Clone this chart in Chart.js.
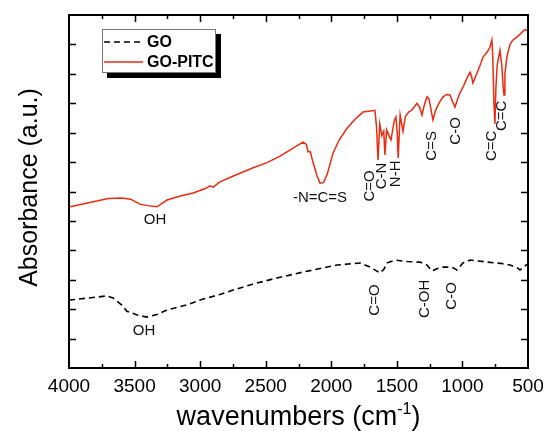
<!DOCTYPE html>
<html>
<head>
<meta charset="utf-8">
<script src="https://cdn.jsdelivr.net/npm/chart.js@4"></script>
<style>
    html, body { margin: 0; background: #fff; }
    #wrap { width: 547px; height: 431px; }
</style>
</head>
<body>
<div id="wrap"><canvas id="graph"></canvas></div>
<script>
const FONT = '"Liberation Sans", Arial, sans-serif';

// GO-PITC spectrum (wavenumber, absorbance a.u.)
const pitcWave = [4000, 3850, 3700, 3600, 3530, 3460, 3400, 3330, 3290, 3253, 3150, 3054, 2960, 2925, 2900, 2849, 2760, 2696, 2600, 2490,
    2391, 2300, 2216, 2190, 2177, 2160, 2140, 2110, 2086, 2060, 2030, 1987, 1940, 1880, 1820, 1758, 1700, 1667, 1655, 1644,
    1630, 1615, 1600, 1591, 1578, 1560, 1545, 1520, 1507, 1497, 1490, 1475, 1453, 1435, 1410, 1385, 1347, 1325, 1308, 1290,
    1270, 1255, 1240, 1225, 1205, 1180, 1148, 1120, 1095, 1075, 1057, 1040, 1019, 990, 965, 942, 930, 920, 905, 889,
    860, 843, 810, 790, 775, 768, 760, 752, 745, 735, 714, 700, 690, 683, 676, 660, 637, 615, 584, 560, 538, 520, 500];
const pitcAbs = [5.47, 5.62, 5.76, 5.78, 5.74, 5.57, 5.52, 5.48, 5.6, 5.71, 5.85, 5.95, 6.1, 6.19, 6.15, 6.33, 6.5, 6.62, 6.8, 6.98,
    7.2, 7.45, 7.68, 7.6, 7.35, 7.35, 7.0, 6.55, 6.28, 6.3, 6.6, 7.3, 7.75, 8.15, 8.45, 8.7, 8.74, 8.76, 8.2, 7.07,
    8.3, 7.9, 8.05, 7.24, 8.1, 7.9, 7.75, 8.4, 8.53, 8.0, 7.14, 8.6, 8.05, 8.55, 8.7, 8.77, 9.0, 8.85, 8.6, 8.95,
    9.22, 9.15, 8.8, 8.43, 8.75, 9.0, 9.22, 9.3, 9.28, 9.05, 8.87, 9.1, 9.35, 9.6, 9.86, 10.06, 9.9, 9.69, 9.85, 10.03,
    10.35, 10.57, 10.75, 10.91, 11.15, 10.5, 9.0, 8.3, 9.5, 10.3, 10.8, 10.3, 9.6, 9.28, 10.0, 10.6, 11.0, 11.15, 11.25, 11.35, 11.45, 11.5, 11.45];

// GO spectrum
const goWave = [4000, 3850, 3711, 3664, 3600, 3558, 3480, 3405, 3330, 3253, 3100, 3001, 2850, 2749, 2600, 2414, 2216, 1956, 1781, 1705,
    1629, 1600, 1575, 1514, 1420, 1324, 1270, 1232, 1190, 1148, 1080, 1042, 996, 942, 880, 813, 700, 637, 580, 561, 515, 500];
const goAbs = [2.31, 2.38, 2.45, 2.38, 2.15, 1.93, 1.8, 1.73, 1.82, 1.97, 2.15, 2.31, 2.5, 2.65, 2.85, 3.06, 3.26, 3.5, 3.57, 3.43,
    3.23, 3.35, 3.57, 3.67, 3.62, 3.6, 3.5, 3.3, 3.38, 3.43, 3.43, 3.33, 3.57, 3.67, 3.64, 3.6, 3.55, 3.5, 3.4, 3.33, 3.5, 3.55];

const xTicks = [4000, 3500, 3000, 2500, 2000, 1500, 1000, 500];
const seriesNames = ['GO', 'GO-PITC'];

// peak labels: text, wavenumber, absorbance, rotated
const peakText = ['OH', '-N=C=S', 'C=O', 'C-N', 'N-H', 'C=S', 'C-O', 'C=C', 'C=C', 'OH', 'C=O', 'C-OH', 'C-O'];
const peakWave = [3344, 2086, 1705, 1613, 1507, 1232, 1049, 775, 698, 3428, 1667, 1286, 1080];
const peakAbs = [5.03, 5.78, 6.19, 6.53, 6.6, 7.55, 8.06, 7.55, 8.57, 1.26, 2.31, 2.35, 2.45];
const peakRot = [false, false, true, true, true, true, true, true, true, false, true, true, true];

const toXY = (w, a) => w.map((v, i) => ({ x: v, y: a[i] }));

const decor = {
    id: 'decor',
    afterDraw(chart) {
        const { ctx, chartArea: ca, scales: { x, y } } = chart;
        ctx.save();

        // frame
        ctx.strokeStyle = '#000';
        ctx.lineWidth = 2;
        ctx.strokeRect(ca.left, ca.top, ca.right - ca.left, ca.bottom - ca.top);

        // inward ticks
        ctx.lineWidth = 1.5;
        ctx.beginPath();
        for (let w = 750; w < 4000; w += 250) {
            const px = Math.round(x.getPixelForValue(w)) + 0.5;
            const len = w % 500 === 0 ? 7 : 4;
            ctx.moveTo(px, ca.bottom); ctx.lineTo(px, ca.bottom - len);
            ctx.moveTo(px, ca.top); ctx.lineTo(px, ca.top + len);
        }
        for (let v = 1; v < 12; v++) {
            const py = Math.round(y.getPixelForValue(v)) + 0.5;
            ctx.moveTo(ca.left, py); ctx.lineTo(ca.left + 7, py);
            ctx.moveTo(ca.right, py); ctx.lineTo(ca.right - 7, py);
        }
        ctx.stroke();

        // peak labels
        ctx.fillStyle = '#111';
        ctx.font = '15px ' + FONT;
        ctx.textAlign = 'center';
        ctx.textBaseline = 'middle';
        peakText.forEach((t, i) => {
            ctx.save();
            ctx.translate(x.getPixelForValue(peakWave[i]), y.getPixelForValue(peakAbs[i]));
            if (peakRot[i]) ctx.rotate(-Math.PI / 2);
            ctx.fillText(t, 0, 0);
            ctx.restore();
        });

        // axis titles
        ctx.fillStyle = '#000';
        ctx.textBaseline = 'alphabetic';
        const main = 'wavenumbers (cm', sup = '-1', end = ')';
        ctx.font = '27px ' + FONT;
        const w1 = ctx.measureText(main).width, w3 = ctx.measureText(end).width;
        ctx.font = '16px ' + FONT;
        const w2 = ctx.measureText(sup).width;
        let tx = (ca.left + ca.right) / 2 - (w1 + w2 + w3) / 2;
        const base = 425;
        ctx.textAlign = 'left';
        ctx.font = '27px ' + FONT;
        ctx.fillText(main, tx, base);
        ctx.font = '16px ' + FONT;
        ctx.fillText(sup, tx + w1, base - 11);
        ctx.font = '27px ' + FONT;
        ctx.fillText(end, tx + w1 + w2, base);

        ctx.save();
        ctx.translate(37, (ca.top + ca.bottom) / 2 - 4);
        ctx.rotate(-Math.PI / 2);
        ctx.textAlign = 'center';
        ctx.font = '25px ' + FONT;
        ctx.fillText('Absorbance (a.u.)', 0, 0);
        ctx.restore();

        // legend
        ctx.fillStyle = '#000';
        ctx.fillRect(107, 34, 114, 44);
        ctx.fillStyle = '#fff';
        ctx.fillRect(102, 29, 114, 44);
        ctx.strokeStyle = '#777';
        ctx.lineWidth = 1;
        ctx.strokeRect(102.5, 29.5, 113, 43);
        chart.data.datasets.forEach((ds, i) => {
            const ly = 42 + i * 20;
            ctx.strokeStyle = ds.borderColor;
            ctx.lineWidth = ds.borderWidth;
            ctx.setLineDash(ds.borderDash || []);
            ctx.beginPath();
            ctx.moveTo(104, ly); ctx.lineTo(143, ly);
            ctx.stroke();
            ctx.setLineDash([]);
            ctx.fillStyle = '#000';
            ctx.font = 'bold 16px ' + FONT;
            ctx.textAlign = 'left';
            ctx.textBaseline = 'middle';
            ctx.fillText(ds.label, 147, ly + 1);
        });

        ctx.restore();
    },
};

const graph = new Chart('graph', {
    type: 'line',

    data: {
        datasets: [{
            label: seriesNames[0],
            data: toXY(goWave, goAbs),
            borderColor: '#000',
            borderDash: [6, 4],
            borderWidth: 1.6,
            pointRadius: 0,
        }, {
            label: seriesNames[1],
            data: toXY(pitcWave, pitcAbs),
            borderColor: '#ec2a10',
            borderWidth: 1.5,
            pointRadius: 0,
        }],
    },

    options: {
        animation: false,
        devicePixelRatio: 1,
        maintainAspectRatio: false,
        responsive: true,

        layout: {
            padding: { top: 15, right: 19, left: 0, bottom: 0 },
        },

        plugins: {
            legend: { display: false },
            tooltip: { enabled: false },
        },

        scales: {
            x: {
                type: 'linear',
                reverse: true,
                min: 500,
                max: 4000,
                afterFit: s => {
                    s.height = 63;
                    s.paddingLeft = 0;
                    s.paddingRight = 0;
                },
                afterBuildTicks: s => { s.ticks = xTicks.map(v => ({ value: v })); },
                border: { display: false },
                grid: { display: false, drawTicks: false },
                ticks: {
                    autoSkip: false,
                    callback: v => String(v),
                    color: '#000',
                    font: { family: FONT, size: 19 },
                    maxRotation: 0,
                    padding: 7,
                },
            },

            y: {
                type: 'linear',
                min: 0,
                max: 12,
                afterFit: s => { s.width = 69; },
                border: { display: false },
                grid: { display: false, drawTicks: false },
                ticks: { display: false },
            },
        },
    },

    plugins: [decor],
});
</script>
</body>
</html>
